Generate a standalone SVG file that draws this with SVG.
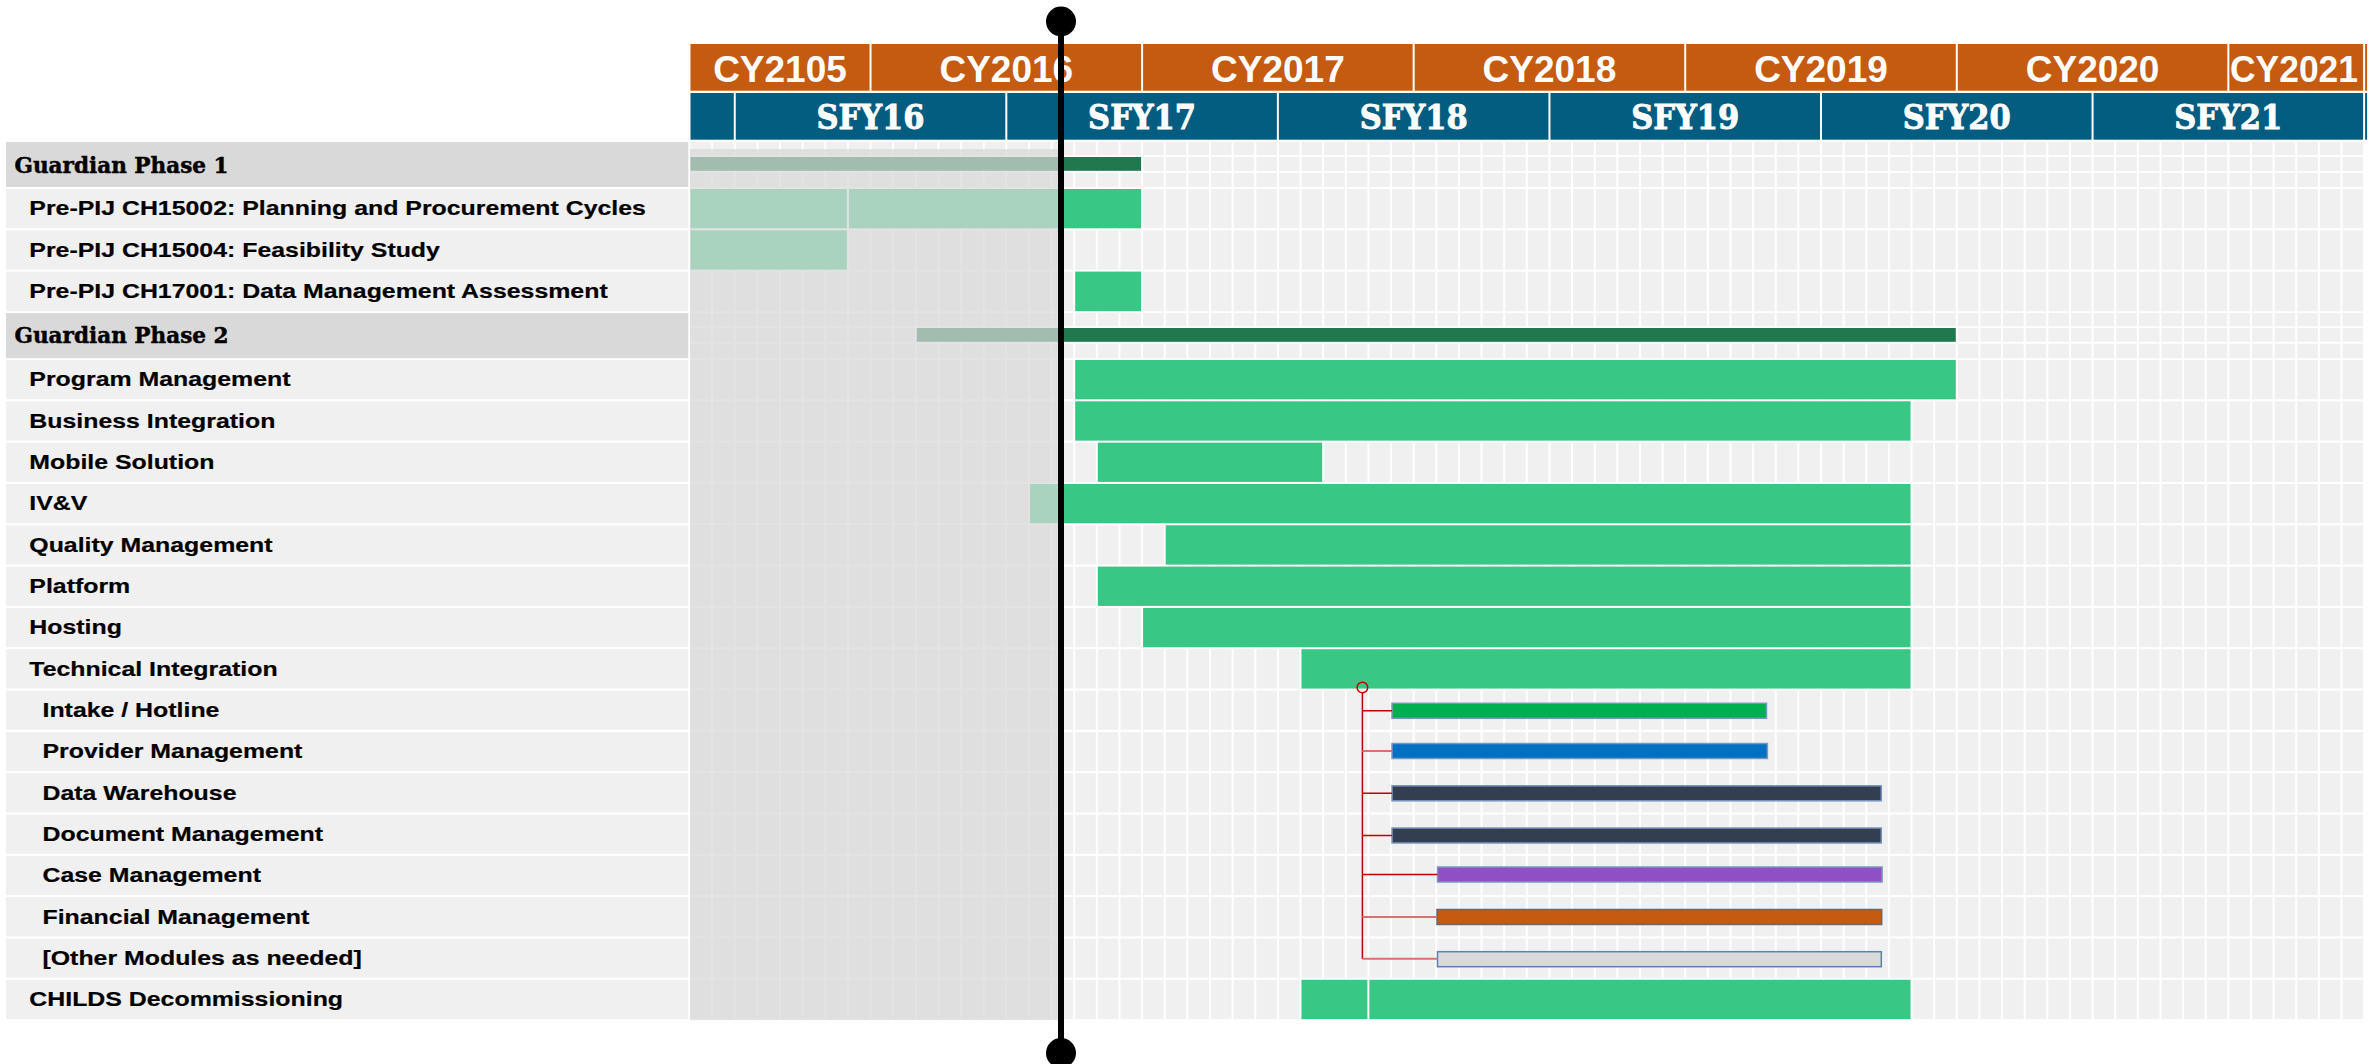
<svg xmlns="http://www.w3.org/2000/svg" width="2379" height="1064" viewBox="0 0 2379 1064">
<defs>
<style>
.cy{fill:#c55a11}
.sfy{fill:#035d80}
.cyt{font-family:"Liberation Sans",Arial,sans-serif;font-weight:bold;font-size:37px;fill:#fff;text-anchor:middle}
.sft{font-family:"DejaVu Serif","Liberation Serif",serif;font-weight:bold;font-size:34px;fill:#fff;stroke:#fff;stroke-width:0.9;text-anchor:middle}
.gr{fill:#f0f0f0}
.lp{fill:#d9d9d9}
.lr{fill:#f0f0f0}
.ph{font-family:"DejaVu Serif","Liberation Serif",serif;font-weight:bold;font-size:22px;fill:#000;stroke:#000;stroke-width:0.5}
.lb{font-family:"Liberation Sans",Arial,sans-serif;font-weight:bold;font-size:21px;fill:#000;stroke:#000;stroke-width:0.2}
.bd{fill:#20784e}
.bl{fill:#38c785}
.sb{stroke:#7b96bd;stroke-width:1.5}
.cn{fill:none;stroke:#c00000;stroke-width:1.5}
.cn2{fill:none;stroke:#d87272;stroke-width:2}
</style>
</defs>
<rect width="2379" height="1064" fill="#fff"/>

<g id="header">
  <g id="cy-row">
    <rect class="cy" x="690.5" y="44" width="179.04" height="46.7"/>
    <rect class="cy" x="871.54" y="44" width="269.56" height="46.7"/>
    <rect class="cy" x="1143.1" y="44" width="269.56" height="46.7"/>
    <rect class="cy" x="1414.66" y="44" width="269.56" height="46.7"/>
    <rect class="cy" x="1686.22" y="44" width="269.56" height="46.7"/>
    <rect class="cy" x="1957.78" y="44" width="269.56" height="46.7"/>
    <rect class="cy" x="2229.34" y="44" width="133.78" height="46.7"/>
    <rect class="cy" x="2365.1" y="44" width="2" height="46.7"/>
    <text class="cyt" x="780" y="81.7">CY2105</text>
    <text class="cyt" x="1006.3" y="81.7">CY2016</text>
    <text class="cyt" x="1277.9" y="81.7">CY2017</text>
    <text class="cyt" x="1549.4" y="81.7">CY2018</text>
    <text class="cyt" x="1821" y="81.7">CY2019</text>
    <text class="cyt" x="2092.6" y="81.7">CY2020</text>
    <text class="cyt" x="2294" y="81.7" textLength="128" lengthAdjust="spacingAndGlyphs">CY2021</text>
  </g>
  <g id="sfy-row">
    <rect class="sfy" x="690.5" y="93" width="43.26" height="46.7"/>
    <rect class="sfy" x="735.76" y="93" width="269.56" height="46.7"/>
    <rect class="sfy" x="1007.32" y="93" width="269.56" height="46.7"/>
    <rect class="sfy" x="1278.88" y="93" width="269.56" height="46.7"/>
    <rect class="sfy" x="1550.44" y="93" width="269.56" height="46.7"/>
    <rect class="sfy" x="1822" y="93" width="269.56" height="46.7"/>
    <rect class="sfy" x="2093.56" y="93" width="269.56" height="46.7"/>
    <rect class="sfy" x="2365.1" y="93" width="2" height="46.7"/>
    <text class="sft" x="870.5" y="129" textLength="108" lengthAdjust="spacingAndGlyphs">SFY16</text>
    <text class="sft" x="1142.1" y="129" textLength="108" lengthAdjust="spacingAndGlyphs">SFY17</text>
    <text class="sft" x="1413.7" y="129" textLength="108" lengthAdjust="spacingAndGlyphs">SFY18</text>
    <text class="sft" x="1685.2" y="129" textLength="108" lengthAdjust="spacingAndGlyphs">SFY19</text>
    <text class="sft" x="1956.8" y="129" textLength="108" lengthAdjust="spacingAndGlyphs">SFY20</text>
    <text class="sft" x="2228.3" y="129" textLength="108" lengthAdjust="spacingAndGlyphs">SFY21</text>
  </g>
</g>

<g id="grid">
  <rect class="gr" x="689.5" y="142" width="1674.6" height="13.3"/>
  <rect class="gr" x="689.5" y="157" width="1674.6" height="14"/>
  <rect class="gr" x="689.5" y="172.7" width="1674.6" height="14.3"/>
  <rect class="gr" x="689.5" y="189" width="1674.6" height="39.3"/>
  <rect class="gr" x="689.5" y="230.3" width="1674.6" height="39.3"/>
  <rect class="gr" x="689.5" y="271.6" width="1674.6" height="39.7"/>
  <rect class="gr" x="689.5" y="313" width="1674.6" height="13.3"/>
  <rect class="gr" x="689.5" y="328" width="1674.6" height="13.8"/>
  <rect class="gr" x="689.5" y="343.7" width="1674.6" height="14.5"/>
  <rect class="gr" x="689.5" y="360" width="1674.6" height="39.3"/>
  <rect class="gr" x="689.5" y="401.32" width="1674.6" height="39.3"/>
  <rect class="gr" x="689.5" y="442.64" width="1674.6" height="39.3"/>
  <rect class="gr" x="689.5" y="483.96" width="1674.6" height="39.3"/>
  <rect class="gr" x="689.5" y="525.28" width="1674.6" height="39.3"/>
  <rect class="gr" x="689.5" y="566.6" width="1674.6" height="39.3"/>
  <rect class="gr" x="689.5" y="607.92" width="1674.6" height="39.3"/>
  <rect class="gr" x="689.5" y="649.24" width="1674.6" height="39.3"/>
  <rect class="gr" x="689.5" y="690.56" width="1674.6" height="39.3"/>
  <rect class="gr" x="689.5" y="731.88" width="1674.6" height="39.3"/>
  <rect class="gr" x="689.5" y="773.2" width="1674.6" height="39.3"/>
  <rect class="gr" x="689.5" y="814.52" width="1674.6" height="39.3"/>
  <rect class="gr" x="689.5" y="855.84" width="1674.6" height="39.3"/>
  <rect class="gr" x="689.5" y="897.16" width="1674.6" height="39.3"/>
  <rect class="gr" x="689.5" y="938.48" width="1674.6" height="39.3"/>
  <rect class="gr" x="689.5" y="979.8" width="1674.6" height="39.3"/>
  <path fill="none" stroke="#fff" stroke-width="2" d="M689.5 140V1021M712.13 140V1021M734.76 140V1021M757.39 140V1021M780.02 140V1021M802.65 140V1021M825.28 140V1021M847.91 140V1021M870.54 140V1021M893.17 140V1021M915.8 140V1021M938.43 140V1021M961.06 140V1021M983.69 140V1021M1006.32 140V1021M1028.95 140V1021M1051.58 140V1021M1074.21 140V1021M1096.84 140V1021M1119.47 140V1021M1142.1 140V1021M1164.73 140V1021M1187.36 140V1021M1209.99 140V1021M1232.62 140V1021M1255.25 140V1021M1277.88 140V1021M1300.51 140V1021M1323.14 140V1021M1345.77 140V1021M1368.4 140V1021M1391.03 140V1021M1413.66 140V1021M1436.29 140V1021M1458.92 140V1021M1481.55 140V1021M1504.18 140V1021M1526.81 140V1021M1549.44 140V1021M1572.07 140V1021M1594.7 140V1021M1617.33 140V1021M1639.96 140V1021M1662.59 140V1021M1685.22 140V1021M1707.85 140V1021M1730.48 140V1021M1753.11 140V1021M1775.74 140V1021M1798.37 140V1021M1821 140V1021M1843.63 140V1021M1866.26 140V1021M1888.89 140V1021M1911.52 140V1021M1934.15 140V1021M1956.78 140V1021M1979.41 140V1021M2002.04 140V1021M2024.67 140V1021M2047.3 140V1021M2069.93 140V1021M2092.56 140V1021M2115.19 140V1021M2137.82 140V1021M2160.45 140V1021M2183.08 140V1021M2205.71 140V1021M2228.34 140V1021M2250.97 140V1021M2273.6 140V1021M2296.23 140V1021M2318.86 140V1021M2341.49 140V1021M2364.12 140V1021"/>
</g>

<g id="rows">
  <g id="guardian-phase-1">
    <rect class="lp" x="6" y="142" width="682.3" height="45"/>
    <text class="ph" x="14.5" y="172.7" textLength="214" lengthAdjust="spacingAndGlyphs">Guardian Phase 1</text>
    <rect class="bd" x="690.5" y="157" width="450.6" height="13.8"/>
  </g>
  <g id="ch15002">
    <rect class="lr" x="6" y="189" width="682.3" height="39.3"/>
    <text class="lb" transform="scale(1.185 1)" x="24.73" y="215.5">Pre-PIJ CH15002: Planning and Procurement Cycles</text>
    <rect class="bl" x="690.5" y="189" width="156.41" height="39.3"/>
    <rect class="bl" x="848.91" y="189" width="292.19" height="39.3"/>
  </g>
  <g id="ch15004">
    <rect class="lr" x="6" y="230.3" width="682.3" height="39.3"/>
    <text class="lb" transform="scale(1.185 1)" x="24.73" y="256.8">Pre-PIJ CH15004: Feasibility Study</text>
    <rect class="bl" x="690.5" y="230.3" width="156.41" height="39.3"/>
  </g>
  <g id="ch17001">
    <rect class="lr" x="6" y="271.6" width="682.3" height="39.7"/>
    <text class="lb" transform="scale(1.185 1)" x="24.73" y="298.3">Pre-PIJ CH17001: Data Management Assessment</text>
    <rect class="bl" x="1075.21" y="271.6" width="65.89" height="39.5"/>
  </g>
  <g id="guardian-phase-2">
    <rect class="lp" x="6" y="313" width="682.3" height="45.2"/>
    <text class="ph" x="14.5" y="343.3" textLength="214" lengthAdjust="spacingAndGlyphs">Guardian Phase 2</text>
    <rect class="bd" x="916.8" y="328" width="1038.98" height="13.8"/>
  </g>
  <g id="program-management">
    <rect class="lr" x="6" y="360" width="682.3" height="39.3"/>
    <text class="lb" transform="scale(1.185 1)" x="24.73" y="386.5">Program Management</text>
    <rect class="bl" x="1075.21" y="360" width="880.57" height="39.3"/>
  </g>
  <g id="business-integration">
    <rect class="lr" x="6" y="401.32" width="682.3" height="39.3"/>
    <text class="lb" transform="scale(1.185 1)" x="24.73" y="427.8">Business Integration</text>
    <rect class="bl" x="1075.21" y="401.32" width="835.31" height="39.3"/>
  </g>
  <g id="mobile-solution">
    <rect class="lr" x="6" y="442.64" width="682.3" height="39.3"/>
    <text class="lb" transform="scale(1.185 1)" x="24.73" y="469.1">Mobile Solution</text>
    <rect class="bl" x="1097.84" y="442.64" width="224.3" height="39.3"/>
  </g>
  <g id="ivv">
    <rect class="lr" x="6" y="483.96" width="682.3" height="39.3"/>
    <text class="lb" transform="scale(1.185 1)" x="24.73" y="510.5">IV&amp;V</text>
    <rect class="bl" x="1029.95" y="483.96" width="880.57" height="39.3"/>
  </g>
  <g id="quality-management">
    <rect class="lr" x="6" y="525.28" width="682.3" height="39.3"/>
    <text class="lb" transform="scale(1.185 1)" x="24.73" y="551.8">Quality Management</text>
    <rect class="bl" x="1165.73" y="525.28" width="744.79" height="39.3"/>
  </g>
  <g id="platform">
    <rect class="lr" x="6" y="566.6" width="682.3" height="39.3"/>
    <text class="lb" transform="scale(1.185 1)" x="24.73" y="593.1">Platform</text>
    <rect class="bl" x="1097.84" y="566.6" width="812.68" height="39.3"/>
  </g>
  <g id="hosting">
    <rect class="lr" x="6" y="607.92" width="682.3" height="39.3"/>
    <text class="lb" transform="scale(1.185 1)" x="24.73" y="634.4">Hosting</text>
    <rect class="bl" x="1143.1" y="607.92" width="767.42" height="39.3"/>
  </g>
  <g id="technical-integration">
    <rect class="lr" x="6" y="649.24" width="682.3" height="39.3"/>
    <text class="lb" transform="scale(1.185 1)" x="24.73" y="675.7">Technical Integration</text>
    <rect class="bl" x="1301.51" y="649.24" width="609.01" height="39.3"/>
  </g>
  <g id="intake-hotline">
    <rect class="lr" x="6" y="690.56" width="682.3" height="39.3"/>
    <text class="lb" transform="scale(1.185 1)" x="35.86" y="717.1">Intake / Hotline</text>
    <rect class="sb" fill="#00b050" x="1392" y="703.3" width="374.5" height="15"/>
  </g>
  <g id="provider-management">
    <rect class="lr" x="6" y="731.88" width="682.3" height="39.3"/>
    <text class="lb" transform="scale(1.185 1)" x="35.86" y="758.4">Provider Management</text>
    <rect class="sb" fill="#0070c0" x="1392" y="743.5" width="375.4" height="15"/>
  </g>
  <g id="data-warehouse">
    <rect class="lr" x="6" y="773.2" width="682.3" height="39.3"/>
    <text class="lb" transform="scale(1.185 1)" x="35.86" y="799.7">Data Warehouse</text>
    <rect class="sb" fill="#333f50" x="1392" y="785.8" width="489.3" height="15"/>
  </g>
  <g id="document-management">
    <rect class="lr" x="6" y="814.52" width="682.3" height="39.3"/>
    <text class="lb" transform="scale(1.185 1)" x="35.86" y="841">Document Management</text>
    <rect class="sb" fill="#333f50" x="1392" y="828" width="489.3" height="15"/>
  </g>
  <g id="case-management">
    <rect class="lr" x="6" y="855.84" width="682.3" height="39.3"/>
    <text class="lb" transform="scale(1.185 1)" x="35.86" y="882.3">Case Management</text>
    <rect class="sb" fill="#914fc6" x="1437.5" y="867" width="444.6" height="15"/>
  </g>
  <g id="financial-management">
    <rect class="lr" x="6" y="897.16" width="682.3" height="39.3"/>
    <text class="lb" transform="scale(1.185 1)" x="35.86" y="923.7">Financial Management</text>
    <rect fill="#c55a11" stroke="#666b73" stroke-width="1.5" x="1437" y="909.5" width="444.7" height="15"/>
  </g>
  <g id="other-modules">
    <rect class="lr" x="6" y="938.48" width="682.3" height="39.3"/>
    <text class="lb" transform="scale(1.185 1)" x="35.86" y="965">[Other Modules as needed]</text>
    <rect fill="#d9d9d9" stroke="#5a82b5" stroke-width="1.5" x="1437.5" y="951.7" width="443.8" height="15"/>
  </g>
  <g id="childs-decommissioning">
    <rect class="lr" x="6" y="979.8" width="682.3" height="39.3"/>
    <text class="lb" transform="scale(1.185 1)" x="24.73" y="1006.3">CHILDS Decommissioning</text>
    <rect class="bl" x="1301.51" y="979.8" width="65.89" height="39.3"/>
    <rect class="bl" x="1369.4" y="979.8" width="541.12" height="39.3"/>
  </g>
</g>

<g id="connectors">
  <circle class="cn" cx="1362.4" cy="687.5" r="5.3"/>
  <path class="cn" d="M1362.4 692.8V959"/>
  <path class="cn" d="M1362.4 710.8H1392M1362.4 793.3H1392M1362.4 835.5H1392M1362.4 874.5H1437.5"/>
  <path class="cn2" d="M1362.4 751H1392M1362.4 917H1437M1362.4 958.8H1437.5"/>
</g>

<g id="past-overlay">
  <rect x="690" y="149" width="368" height="871" fill="#d8d8d8" fill-opacity="0.71"/>
</g>

<g id="today-marker">
  <rect x="1058" y="21.5" width="6" height="1031.5" fill="#000"/>
  <circle cx="1061" cy="21.5" r="15" fill="#000"/>
  <circle cx="1061" cy="1053" r="15" fill="#000"/>
</g>
</svg>
